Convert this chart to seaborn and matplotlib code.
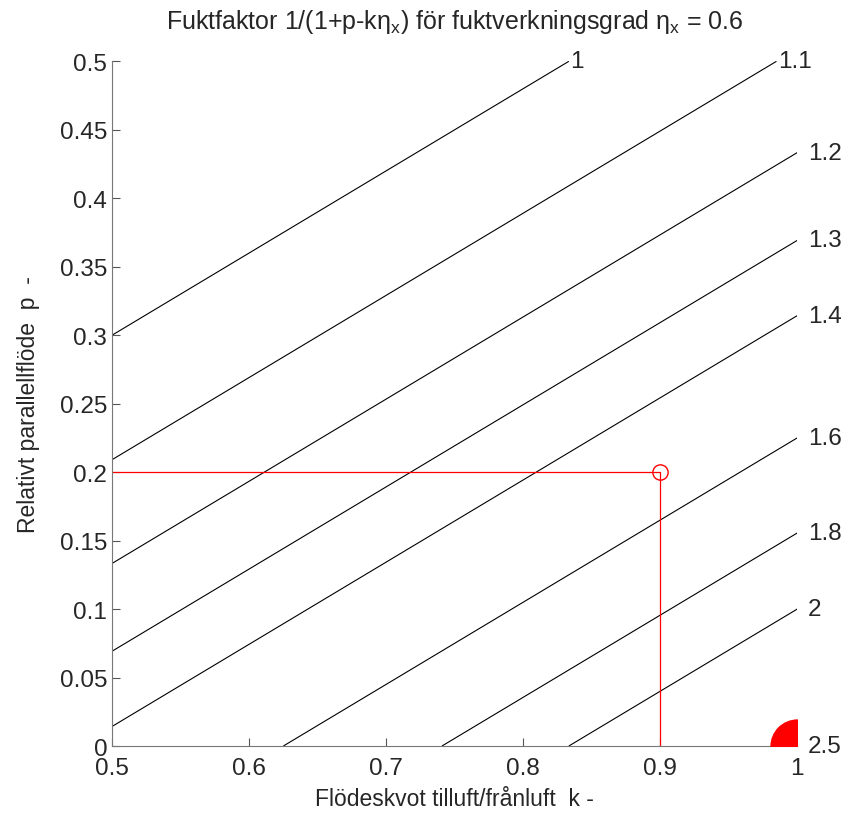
import numpy as np
import matplotlib
matplotlib.use("Agg")
import matplotlib.pyplot as plt
import seaborn as sns

# contour levels of the moisture factor, efficiency and marked operating point
levels = [1, 1.1, 1.2, 1.3, 1.4, 1.6, 1.8, 2, 2.5]
level_labels = ["1", "1.1", "1.2", "1.3", "1.4", "1.6", "1.8", "2", "2.5"]
eta_x = 0.6
k_point = [0.9]
p_point = [0.2]
x_ticks = [0.5, 0.6, 0.7, 0.8, 0.9, 1]
y_ticks = [0, 0.05, 0.1, 0.15, 0.2, 0.25, 0.3, 0.35, 0.4, 0.45, 0.5]

sns.set_style("ticks", {"xtick.direction": "in", "ytick.direction": "in"})
plt.rcParams['font.family'] = ['Liberation Sans', 'DejaVu Sans']
plt.rcParams['mathtext.fontset'] = 'custom'
plt.rcParams['mathtext.rm'] = 'Liberation Sans'

fig = plt.figure(figsize=(8.49, 8.2), dpi=100)
ax = fig.add_axes([0.132, 0.089, 0.807, 0.835])

# grid for the factor 1/(1+p-k*eta)
k = np.linspace(0.5, 1.0, 401)
p = np.linspace(0.0, 0.5, 401)
K, P = np.meshgrid(k, p)
F = 1.0 / (1.0 + P - K * eta_x)

ax.contour(K, P, F, levels=levels[:-1], colors="black", linewidths=0.8)

# red blob at the 2.5 corner
ax.scatter([1.0], [0.0], s=1450, color="red", marker="o", clip_on=True, zorder=3)

# operating point with guide lines
sns.lineplot(x=[0.5, k_point[0]], y=[p_point[0], p_point[0]], color="red", lw=0.9,
             estimator=None, sort=False, ax=ax)
sns.lineplot(x=[k_point[0], k_point[0]], y=[0, p_point[0]], color="red", lw=0.9,
             estimator=None, sort=False, ax=ax)
ax.plot(k_point, p_point, marker="o", ms=11, mfc="none", mec="red", mew=1, ls="none")

# level labels at line ends
for lev, lab in zip(levels, level_labels):
    p_end = eta_x * 1.0 + 1.0 / lev - 1.0
    if p_end > 0.5:
        k_end = (0.5 + 1.0 - 1.0 / lev) / eta_x
        ax.text(k_end + 0.001, 0.5, lab, fontsize=17.5, ha="left", va="center", clip_on=False)
    else:
        ax.text(1.008, max(p_end, -0.002), lab, fontsize=17.5, ha="left", va="center", clip_on=False)

ax.set_xlim(0.5, 1.0)
ax.set_ylim(0.0, 0.5)
ax.set_xticks(x_ticks)
ax.set_xticklabels(["0.5", "0.6", "0.7", "0.8", "0.9", "1"])
ax.set_yticks(y_ticks)
ax.set_yticklabels(["0", "0.05", "0.1", "0.15", "0.2", "0.25", "0.3", "0.35", "0.4", "0.45", "0.5"])
ax.tick_params(labelsize=17.5, length=6, color="#555555")
ax.tick_params(axis="x", pad=8)
for s in ["left", "bottom"]:
    ax.spines[s].set_color("#777777")
sns.despine(ax=ax)

ax.set_xlabel("Flödeskvot tilluft/frånluft  k -", fontsize=16.5, labelpad=6)
ax.set_ylabel("Relativt parallellflöde  p  -", fontsize=16.5, labelpad=14)
ax.set_title("Fuktfaktor 1/(1+p-k$\\mathregular{\\eta_x}$) för fuktverkningsgrad $\\mathregular{\\eta_x}$ = 0.6",
             fontsize=18, pad=24)

fig.savefig("out.png", dpi=100)
